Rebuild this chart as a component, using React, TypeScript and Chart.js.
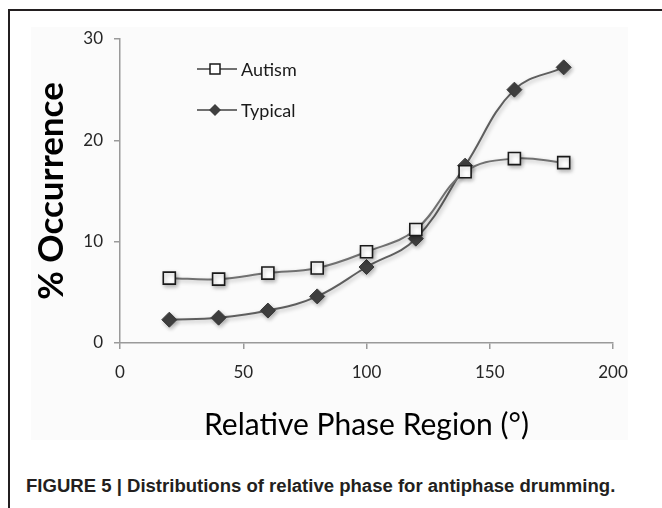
import React, { useEffect, useRef } from "react";
import { Chart, registerables } from "chart.js";

Chart.register(...registerables);

const phaseRegions = [20, 40, 60, 80, 100, 120, 140, 160, 180];
const autismValues = [6.4, 6.3, 6.9, 7.4, 9.0, 11.2, 16.9, 18.2, 17.8];
const typicalValues = [2.3, 2.5, 3.2, 4.6, 7.5, 10.3, 17.5, 25.0, 27.2];
const seriesNames = ["Autism", "Typical"];
const xTitle = "Relative Phase Region (°)";
const yTitle = "% Occurrence";
const caption = "FIGURE 5 | Distributions of relative phase for antiphase drumming.";

const FONT = "Lato, 'Open Sans', sans-serif";

const shadowPlugin = {
  id: "markerShadow",
  beforeDatasetsDraw(chart: any) {
    const ctx = chart.ctx;
    ctx.save();
    ctx.shadowColor = "rgba(0,0,0,0.28)";
    ctx.shadowBlur = 4;
    ctx.shadowOffsetX = 1.5;
    ctx.shadowOffsetY = 2;
  },
  afterDatasetsDraw(chart: any) {
    chart.ctx.restore();
  },
};

const legendPlugin = {
  id: "insideLegend",
  afterDraw(chart: any) {
    const { ctx, chartArea } = chart;
    const x0 = chartArea.left + 77;
    const x1 = chartArea.left + 117;
    const mx = chartArea.left + 95;
    const tx = chartArea.left + 121;
    const rows = [chartArea.top + 30, chartArea.top + 71];
    ctx.save();
    rows.forEach((y: number, i: number) => {
      ctx.strokeStyle = "#707070";
      ctx.lineWidth = 2;
      ctx.beginPath();
      ctx.moveTo(x0, y);
      ctx.lineTo(x1, y);
      ctx.stroke();
      if (i === 0) {
        ctx.fillStyle = "#ffffff";
        ctx.strokeStyle = "#1a1a1a";
        ctx.lineWidth = 1.5;
        ctx.fillRect(mx - 5, y - 5, 10, 10);
        ctx.strokeRect(mx - 5, y - 5, 10, 10);
      } else {
        ctx.fillStyle = "#404040";
        ctx.beginPath();
        ctx.moveTo(mx, y - 6);
        ctx.lineTo(mx + 6, y);
        ctx.lineTo(mx, y + 6);
        ctx.lineTo(mx - 6, y);
        ctx.closePath();
        ctx.fill();
      }
      ctx.fillStyle = "#1a1a1a";
      ctx.font = `18px ${FONT}`;
      ctx.textBaseline = "middle";
      ctx.textAlign = "left";
      ctx.fillText(seriesNames[i], tx, y + 1);
    });
    ctx.restore();
  },
};

export default function App() {
  const canvasRef = useRef<HTMLCanvasElement | null>(null);

  useEffect(() => {
    if (!canvasRef.current) return;
    const chart = new Chart(canvasRef.current, {
      type: "line",
      data: {
        datasets: [
          {
            label: seriesNames[0],
            data: phaseRegions.map((x, i) => ({ x, y: autismValues[i] })),
            borderColor: "#707070",
            borderWidth: 2,
            tension: 0.4,
            pointStyle: "rect",
            pointRadius: 8.5,
            pointBackgroundColor: "#ffffff",
            pointBorderColor: "#1a1a1a",
            pointBorderWidth: 1.6,
            fill: false,
          },
          {
            label: seriesNames[1],
            data: phaseRegions.map((x, i) => ({ x, y: typicalValues[i] })),
            borderColor: "#5e5e5e",
            borderWidth: 2,
            tension: 0.4,
            pointStyle: "rectRot",
            pointRadius: 7.5,
            pointBackgroundColor: "#404040",
            pointBorderColor: "#3a3a3a",
            pointBorderWidth: 1,
            fill: false,
          },
        ],
      },
      options: {
        responsive: false,
        animation: false,
        layout: { padding: { left: 0, top: 28, right: 49, bottom: 0 } },
        plugins: {
          legend: { display: false },
          tooltip: { enabled: false },
        },
        scales: {
          x: {
            type: "linear",
            min: 0,
            max: 200,
            ticks: {
              stepSize: 50,
              color: "#262626",
              font: { family: FONT, size: 17 },
              padding: 13,
              maxRotation: 0,
            },
            grid: {
              drawOnChartArea: false,
              drawTicks: true,
              tickLength: 6,
              color: "#9a9a9a",
              lineWidth: 1.5,
            },
            border: { display: true, color: "#9a9a9a", width: 1.5 },
            title: {
              display: true,
              text: xTitle,
              color: "#000000",
              font: { family: FONT, size: 30, weight: "normal" },
              padding: { top: 0, bottom: 7 },
            },
            afterFit(scale: any) {
              scale.height = 107;
            },
          },
          y: {
            type: "linear",
            min: 0,
            max: 30,
            ticks: {
              stepSize: 10,
              color: "#262626",
              font: { family: FONT, size: 17 },
              padding: 11,
            },
            grid: {
              drawOnChartArea: false,
              drawTicks: true,
              tickLength: 6,
              color: "#9a9a9a",
              lineWidth: 1.5,
            },
            border: { display: true, color: "#9a9a9a", width: 1.5 },
            title: {
              display: true,
              text: yTitle,
              color: "#000000",
              font: { family: FONT, size: 35, weight: "bold" },
              padding: { top: 21, bottom: 0 },
            },
            afterFit(scale: any) {
              scale.width = 110;
            },
          },
        },
      },
      plugins: [shadowPlugin, legendPlugin],
    });
    return () => chart.destroy();
  }, []);

  return (
    <div style={{ position: "fixed", inset: 0, overflow: "hidden", background: "#ffffff" }}>
      <div
        style={{
          position: "absolute",
          left: 8,
          top: 9,
          width: 800,
          height: 800,
          borderLeft: "2px solid #231f20",
          borderTop: "2px solid #231f20",
        }}
      />
      <div
        style={{
          position: "absolute",
          left: 31,
          top: 27,
          width: 597,
          height: 413,
          background: "#fbfbfb",
        }}
      />
      <div style={{ position: "absolute", left: 10, top: 11, width: 652, height: 439 }}>
        <canvas ref={canvasRef} width={652} height={439} style={{ display: "block" }} />
      </div>
      <div
        style={{
          position: "absolute",
          left: 26,
          top: 476,
          whiteSpace: "nowrap",
          fontFamily: "'Liberation Sans', Arial, sans-serif",
          fontWeight: "bold",
          fontSize: 18,
          lineHeight: "20px",
          color: "#231f20",
          transform: "scaleX(1.03)",
          transformOrigin: "left top",
        }}
      >
        {caption}
      </div>
    </div>
  );
}
